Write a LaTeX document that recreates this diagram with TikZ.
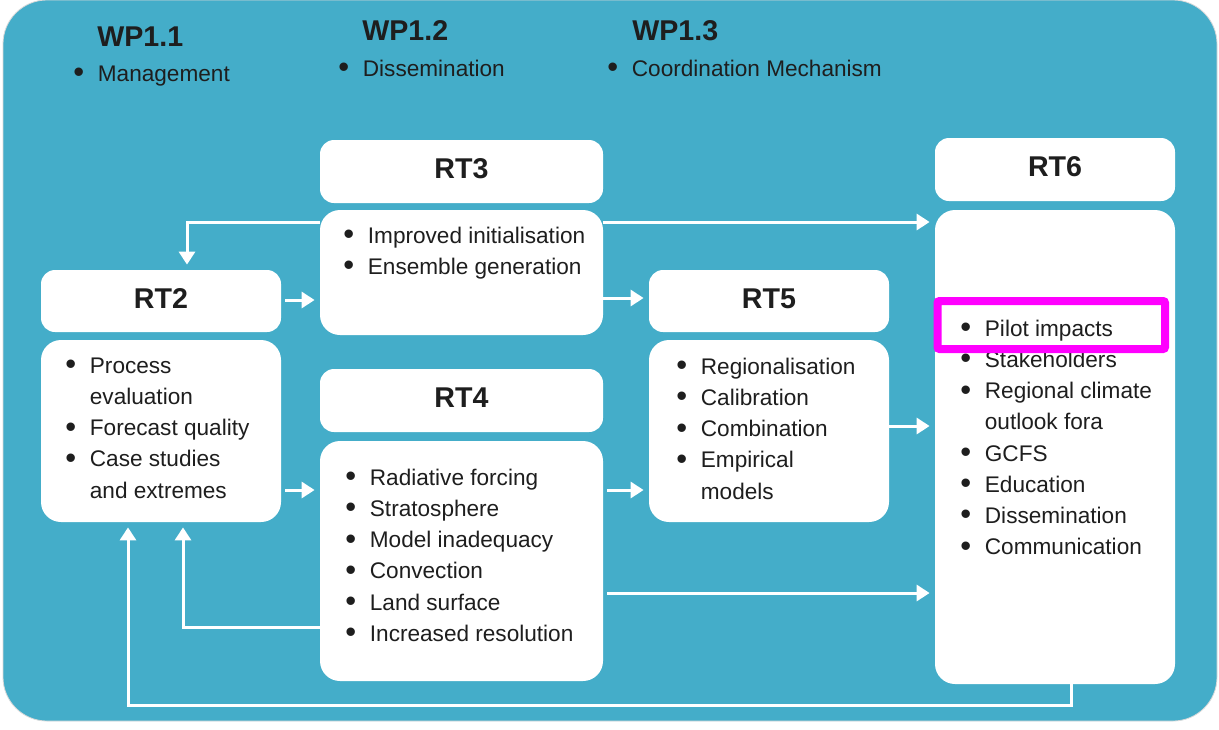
\documentclass[tikz,border=0pt]{standalone}
\usepackage{fontspec}
\setmainfont{Liberation Sans}
\usetikzlibrary{arrows.meta}
\definecolor{panel}{RGB}{68,173,201}
\definecolor{ink}{RGB}{30,30,30}
\definecolor{marker}{RGB}{255,0,255}
\newcommand{\bl}{\makebox[12.25pt][l]{\raisebox{-0.7pt}{\fontsize{15.5}{15.5}\selectfont\textbullet}}}
\newcommand{\ind}{\hspace*{12.25pt}}

\begin{document}
\begin{tikzpicture}[x=0.5pt,y=-0.5pt,
    head/.style={fill=white, rounded corners=7pt, text=ink, inner sep=0pt,
        text height=10.3pt, text depth=3pt,
        font=\fontsize{14.3}{17}\selectfont\bfseries},
    body/.style={fill=white, rounded corners=10pt, inner sep=0pt},
    title/.style={anchor=west, inner sep=0pt, text=ink,
        font=\fontsize{14.3}{17}\selectfont\bfseries},
    list/.style={anchor=north west, align=left, inner sep=0pt, text=ink,
        font=\fontsize{11.3}{15.6}\selectfont},
    flow/.style={white, line width=1.5pt, -{Triangle[width=8pt,length=6.5pt]},
        shorten >=2.5pt}]
        \useasboundingbox (0,0) rectangle (1219,729);
        % panel
        \fill[white] (0,0) rectangle (1219,729);
        \draw[black!15, fill=panel, rounded corners=22pt] (3,0) rectangle (1217,721);
        % work packages
        \node[title] (wp11) at (97,37) {WP1.1};
        \node[list] (wp11list) at (73,59) {\strut\bl Management};
        \node[title] (wp12) at (362,31) {WP1.2};
        \node[list] (wp12list) at (338,54) {\strut\bl Dissemination};
        \node[title] (wp13) at (632,31) {WP1.3};
        \node[list] (wp13list) at (607,54) {\strut\bl Coordination Mechanism};
        % boxes
        \node[head, minimum width=120pt, minimum height=31pt] (rt2h) at (161,301) {RT2};
        \node[body, minimum width=120pt, minimum height=91pt] (rt2b) at (161,431) {};
        \node[head, minimum width=141.5pt, minimum height=31.5pt] (rt3h) at (461.5,171.5) {RT3};
        \node[body, minimum width=141.5pt, minimum height=62.5pt] (rt3b) at (461.5,272.5) {};
        \node[head, minimum width=141.5pt, minimum height=31.5pt] (rt4h) at (461.5,400.5) {RT4};
        \node[body, minimum width=141.5pt, minimum height=120pt] (rt4b) at (461.5,561) {};
        \node[head, minimum width=120pt, minimum height=31pt] (rt5h) at (769,301) {RT5};
        \node[body, minimum width=120pt, minimum height=91pt] (rt5b) at (769,431) {};
        \node[head, minimum width=120pt, minimum height=31.5pt] (rt6h) at (1055,169.5) {RT6};
        \node[body, minimum width=120pt, minimum height=237pt] (rt6b) at (1055,447) {};
        % lists
        \node[list] (rt2list) at (65,351) {\strut\bl Process\\ \ind evaluation\\
            \bl Forecast quality\\ \bl Case studies\\ \ind and extremes};
        \node[list] (rt3list) at (343,221) {\strut\bl Improved initialisation\\
            \bl Ensemble generation};
        \node[list] (rt4list) at (345,463) {\strut\bl Radiative forcing\\ \bl Stratosphere\\
            \bl Model inadequacy\\ \bl Convection\\ \bl Land surface\\ \bl Increased resolution};
        \node[list] (rt5list) at (676,352) {\strut\bl Regionalisation\\ \bl Calibration\\
            \bl Combination\\ \bl Empirical\\ \ind models};
        \node[list] (rt6list) at (960,314) {\strut\bl Pilot impacts\\ \bl Stakeholders\\
            \bl Regional climate\\ \ind outlook fora\\ \bl GCFS\\ \bl Education\\
            \bl Dissemination\\ \bl Communication};
        % arrows
        \draw[flow] (rt3b.west |- 0,222) -| (rt2h.north -| 187,0);
        \draw[flow] (rt3b.east |- 0,222) -- (rt6b.west |- 0,222);
        \draw[flow, shorten <=2pt] (rt2h.east |- 0,300) -- (rt3b.west |- 0,300);
        \draw[flow] (rt3b.east |- 0,298) -- (rt5h.west |- 0,298);
        \draw[flow, shorten <=2pt] (rt2b.east |- 0,490) -- (rt4b.west |- 0,490);
        \draw[flow, shorten <=2pt] (rt4b.east |- 0,490) -- (rt5b.west |- 0,490);
        \draw[flow] (rt5b.east |- 0,426) -- (rt6b.west |- 0,426);
        \draw[flow, shorten <=2pt] (rt4b.east |- 0,593) -- (rt6b.west |- 0,593);
        \draw[flow] (rt4b.west |- 0,627) -| (rt2b.south -| 183,0);
        \draw[flow] (rt6b.south -| 1071,0) |- (128,705) -- (rt2b.south -| 128,0);
        % highlight
        \draw[marker, line width=4pt, rounded corners=1pt] (937.5,301) rectangle (1165,349);
\end{tikzpicture}
\end{document}
